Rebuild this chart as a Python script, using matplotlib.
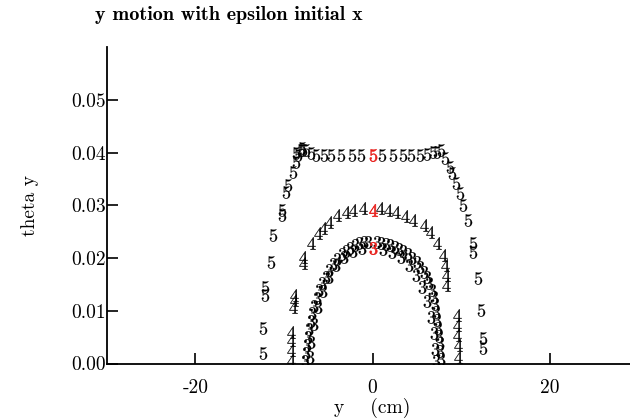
import matplotlib
matplotlib.use("Agg")
import matplotlib.pyplot as plt

plt.rcParams["mathtext.fontset"] = "cm"
plt.rcParams["axes.unicode_minus"] = False

# trajectory samples in (y [cm], theta_y)
y5 = [-12.4, -12.4, -12.1, -12.1, -11.5, -11.2, -10.2, -10.2, -9.8, -9.6, -9.0, -8.7,
      -8.4, -8.6, -8.1, -8.0, -7.8, -7.5, -6.9, -6.4, -5.5, -4.7, -3.6, -2.3, -1.35,
      1.1, 2.3, 3.4, 4.3, 5.4, 6.2, 6.8, 7.3, 7.7, 8.2, 8.8, 9.0, 9.4, 9.9, 10.2,
      10.8, 11.4, 11.4, 11.96, 12.2, 12.5, 12.5]
t5 = [0.0020, 0.0067, 0.0130, 0.0145, 0.0193, 0.0244, 0.0282, 0.0291, 0.0325, 0.0339,
      0.0363, 0.0382, 0.0396, 0.0400, 0.0405, 0.0408, 0.0405, 0.0405, 0.0400, 0.0396,
      0.0396, 0.0396, 0.0396, 0.0396, 0.0396, 0.0396, 0.0396, 0.0396, 0.0396, 0.0396,
      0.0398, 0.0402, 0.0401, 0.0405, 0.0390, 0.0373, 0.0361, 0.0342, 0.0323, 0.0300,
      0.0272, 0.0228, 0.0212, 0.0162, 0.0101, 0.0048, 0.0030]

y4 = [-9.26, -9.26, -9.26, -9.26, -9.03, -8.92, -8.92, -7.9, -7.8, -7.0, -6.2, -5.6,
      -4.97, -4.06, -3.05, -2.26, -1.13, 0.9, 1.8, 2.6, 3.7, 4.6, 5.76, 6.5, 7.3,
      8.0, 8.2, 8.35, 8.35, 9.6, 9.6, 9.6, 9.7, 9.7]
t4 = [0.0007, 0.0026, 0.0045, 0.0060, 0.0107, 0.0120, 0.0130, 0.0191, 0.0202, 0.0229,
      0.0248, 0.0257, 0.0268, 0.0282, 0.0287, 0.0291, 0.0295, 0.0295, 0.0291, 0.0287,
      0.0280, 0.0272, 0.0263, 0.0250, 0.0229, 0.0206, 0.0187, 0.0168, 0.0149, 0.0092,
      0.0073, 0.0054, 0.0035, 0.0012]

y3 = [-7.6, -7.5, -7.4, -7.3, -7.2, -7.0, -6.8, -6.6, -6.3, -6.0, -5.7, -5.3, -4.9,
      -4.5, -4.0, -3.5, -3.0, -2.5, -2.0, -1.5, -1.0, -0.5, 0.5, 1.0, 1.5, 2.0, 2.5,
      3.0, 3.5, 4.0, 4.5, 5.0, 5.4, 5.8, 6.1, 6.4, 6.7, 6.9, 7.1, 7.2, 7.3, 7.4, 7.5,
      7.6, 7.65, 7.7,
      -7.1, -6.9, -6.6, -6.2, -5.6, -4.9, -4.1, -3.2, -2.2, -1.2, 1.2, 2.2, 3.2, 4.1,
      4.9, 5.6, 6.2, 6.6, 6.9, 7.1, 7.2]
t3 = [0.0005, 0.0020, 0.0035, 0.0050, 0.0065, 0.0080, 0.0095, 0.0110, 0.0125, 0.0140,
      0.0152, 0.0165, 0.0178, 0.0188, 0.0198, 0.0207, 0.0214, 0.0220, 0.0225, 0.0228,
      0.0230, 0.0231, 0.0230, 0.0229, 0.0227, 0.0225, 0.0222, 0.0218, 0.0213, 0.0208,
      0.0201, 0.0193, 0.0184, 0.0174, 0.0164, 0.0153, 0.0140, 0.0127, 0.0113, 0.0098,
      0.0083, 0.0068, 0.0053, 0.0038, 0.0023, 0.0008,
      0.0012, 0.0040, 0.0075, 0.0108, 0.0138, 0.0164, 0.0186, 0.0202, 0.0213, 0.0219,
      0.0218, 0.0212, 0.0202, 0.0187, 0.0168, 0.0145, 0.0118, 0.0088, 0.0058, 0.0028,
      0.0005]

# starting points of each orbit
start_y = [0.0, 0.0, 0.0]
start_t = [0.0396, 0.0291, 0.0219]
labels = ["5", "4", "3"]

xticks = [-20, 0, 20]
xticklabels = ["-20", "0", "20"]
yticks = [0.00, 0.01, 0.02, 0.03, 0.04, 0.05]
yticklabels = ["0.00", "0.01", "0.02", "0.03", "0.04", "0.05"]

fig = plt.figure(figsize=(6.3, 4.2), dpi=100)
ax = fig.add_axes([0.1698, 0.1345, 0.843, 0.7529])

ms = 9
for xs, ts, lab in [(y5, t5, "5"), (y4, t4, "4"), (y3, t3, "3")]:
    ax.plot(xs, ts, ls="none", marker=f"${lab}$", ms=ms, color="black", mew=0.15)
for x0, t0, lab in zip(start_y, start_t, labels):
    ax.plot([x0], [t0], ls="none", marker=f"${lab}$", ms=ms, color="#e8201c",
            mew=0.4)

ax.set_xlim(-30, 30)
ax.set_ylim(0, 0.06)
ax.set_xticks(xticks)
ax.set_xticklabels(xticklabels, fontfamily="cmr10", fontsize=14)
ax.set_yticks(yticks)
ax.set_yticklabels(yticklabels, fontfamily="cmr10", fontsize=14)
ax.tick_params(direction="in", length=8, width=1.2, color="black")
ax.tick_params(axis="y", pad=1)
ax.tick_params(axis="x", pad=11)
for s in ["top", "right"]:
    ax.spines[s].set_visible(False)
for s in ["left", "bottom"]:
    ax.spines[s].set_linewidth(1.3)

ax.set_xlabel("y    (cm)", fontfamily="cmr10", fontsize=14, labelpad=1)
ax.set_ylabel("theta y", fontfamily="cmr10", fontsize=14, labelpad=23)
fig.text(0.151, 0.964, "y motion with epsilon initial x", fontfamily="cmb10",
         fontsize=14.5, ha="left", va="center")

fig.savefig("out.png", dpi=100)
